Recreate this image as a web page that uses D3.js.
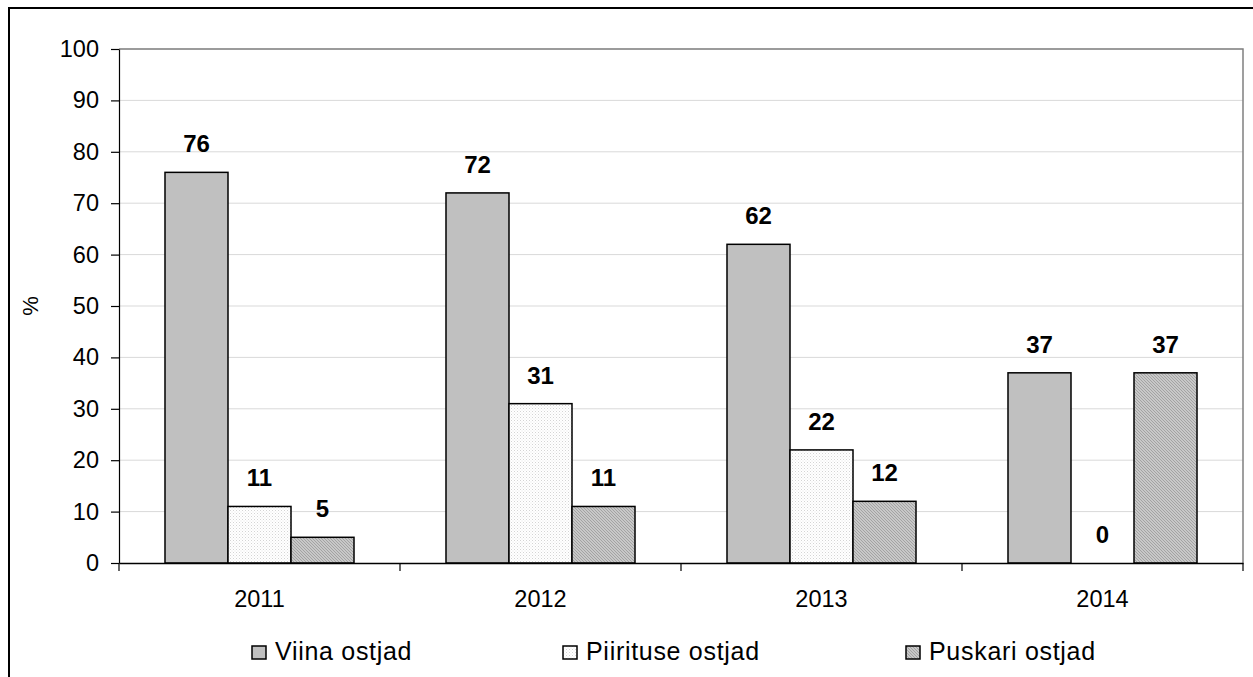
<!DOCTYPE html>
<html>
<head>
<meta charset="utf-8">
<script src="https://cdn.jsdelivr.net/npm/d3@7"></script>
<style>
  body { margin: 0; background: #fff; }
  svg text { font-family: "Liberation Sans", Arial, sans-serif; }
</style>
</head>
<body>
<div id="chart"></div>
<script>
const W = 1253, H = 677

const years = ["2011", "2012", "2013", "2014"]
const seriesNames = ["Viina ostjad", "Piirituse ostjad", "Puskari ostjad"]
const viina = [76, 72, 62, 37]
const piirituse = [11, 31, 22, 0]
const puskari = [5, 11, 12, 37]
const yTicks = [0, 10, 20, 30, 40, 50, 60, 70, 80, 90, 100]

const values = [viina, piirituse, puskari]
const fills = ["#c0c0c0", "url(#dots)", "url(#hatch)"]

const margin = {left: 119, right: 10, top: 49, bottom: 114}

const svg = d3.select("#chart").append("svg")
    .attr("width", W)
    .attr("height", H)

// patterns
const defs = svg.append("defs")
const dots = defs.append("pattern").attr("id", "dots")
    .attr("patternUnits", "userSpaceOnUse").attr("width", 3).attr("height", 3)
dots.append("rect").attr("width", 3).attr("height", 3).attr("fill", "#fff")
dots.append("rect").attr("width", 1).attr("height", 1).attr("fill", "#d4d4d4")
dots.append("rect").attr("x", 1.5).attr("y", 1.5).attr("width", 1).attr("height", 1).attr("fill", "#e6e6e6")

const hatch = defs.append("pattern").attr("id", "hatch")
    .attr("patternUnits", "userSpaceOnUse").attr("width", 3).attr("height", 3)
hatch.append("rect").attr("width", 3).attr("height", 3).attr("fill", "#c8c8c8")
hatch.append("path").attr("d", "M0,0 L3,3").attr("stroke", "#999").attr("stroke-width", 0.8)

// outer frame
svg.append("path")
    .attr("d", `M9,${H} L9,8 L${W},8`)
    .attr("fill", "none").attr("stroke", "#000").attr("stroke-width", 2)

const x0 = d3.scaleBand().domain(years).range([margin.left, 1243]).paddingInner(0).paddingOuter(0)
const y = d3.scaleLinear().domain([0, 100]).range([563, 49])
const x1 = d3.scaleBand().domain(seriesNames).range([0, x0.bandwidth()]).paddingOuter(0.73).paddingInner(0)

// gridlines
svg.append("g").selectAll("line").data(yTicks.filter(d => d > 0)).enter().append("line")
    .attr("x1", margin.left).attr("x2", 1243)
    .attr("y1", d => y(d)).attr("y2", d => y(d))
    .attr("stroke", "#d9d9d9").attr("stroke-width", 1)

// plot border top/right
svg.append("path")
    .attr("d", `M${margin.left},${y(100)} L1243,${y(100)} L1243,${y(0)}`)
    .attr("fill", "none").attr("stroke", "#808080").attr("stroke-width", 1.5)

// bars
const groups = svg.append("g").selectAll("g").data(years).enter().append("g")
    .attr("transform", d => `translate(${x0(d)},0)`)

groups.selectAll("rect")
    .data((d, i) => values.map((v, s) => ({s: s, v: v[i]})))
    .enter().append("rect")
    .filter(d => d.v > 0)
    .attr("x", d => x1(seriesNames[d.s]))
    .attr("y", d => y(d.v))
    .attr("width", x1.bandwidth())
    .attr("height", d => y(0) - y(d.v))
    .attr("fill", d => fills[d.s])
    .attr("stroke", "#000").attr("stroke-width", 1.5)

groups.selectAll("text")
    .data((d, i) => values.map((v, s) => ({s: s, v: v[i]})))
    .enter().append("text")
    .attr("x", d => x1(seriesNames[d.s]) + x1.bandwidth() / 2)
    .attr("y", d => y(d.v) - 20)
    .attr("text-anchor", "middle")
    .attr("font-size", 24).attr("font-weight", "bold")
    .text(d => d.v)

// y axis
const yAxis = svg.append("g")
    .attr("transform", `translate(${margin.left},0)`)
    .call(d3.axisLeft(y).tickValues(yTicks).tickSize(8).tickSizeOuter(0))
yAxis.select(".domain").attr("stroke", "#000").attr("stroke-width", 1.2)
yAxis.selectAll(".tick line").attr("stroke", "#000").attr("stroke-width", 1.2)
yAxis.selectAll(".tick text").attr("font-size", 23.5).attr("fill", "#000").attr("x", -20)
    .attr("font-family", "Liberation Sans, Arial, sans-serif")

// x axis
const xAxis = svg.append("g")
    .attr("transform", `translate(0,${y(0)})`)
    .call(d3.axisBottom(x0).tickSize(0).tickSizeOuter(0))
xAxis.select(".domain").attr("stroke", "#000").attr("stroke-width", 1.5)
xAxis.selectAll(".tick text").attr("font-size", 23.5).attr("fill", "#000")
    .attr("y", 44).attr("dy", 0)
    .attr("font-family", "Liberation Sans, Arial, sans-serif")
svg.append("g").selectAll("line").data(years.concat(["end"])).enter().append("line")
    .attr("x1", (d, i) => margin.left + i * x0.step()).attr("x2", (d, i) => margin.left + i * x0.step())
    .attr("y1", y(0)).attr("y2", y(0) + 8)
    .attr("stroke", "#000").attr("stroke-width", 1.2)

// y title
svg.append("text")
    .attr("transform", `translate(38,${y(50)}) rotate(-90)`)
    .attr("text-anchor", "middle")
    .attr("font-size", 22)
    .text("%")

// legend
const legX = [252, 563, 906]
const leg = svg.append("g").selectAll("g").data(seriesNames).enter().append("g")
    .attr("transform", (d, i) => `translate(${legX[i]},646)`)
leg.append("rect")
    .attr("width", 14).attr("height", 13)
    .attr("fill", (d, i) => fills[i])
    .attr("stroke", "#000").attr("stroke-width", 1.5)
leg.append("text")
    .attr("x", 23).attr("y", 14)
    .attr("font-size", 25)
    .attr("letter-spacing", 0.7)
    .text(d => d)
</script>
</body>
</html>
